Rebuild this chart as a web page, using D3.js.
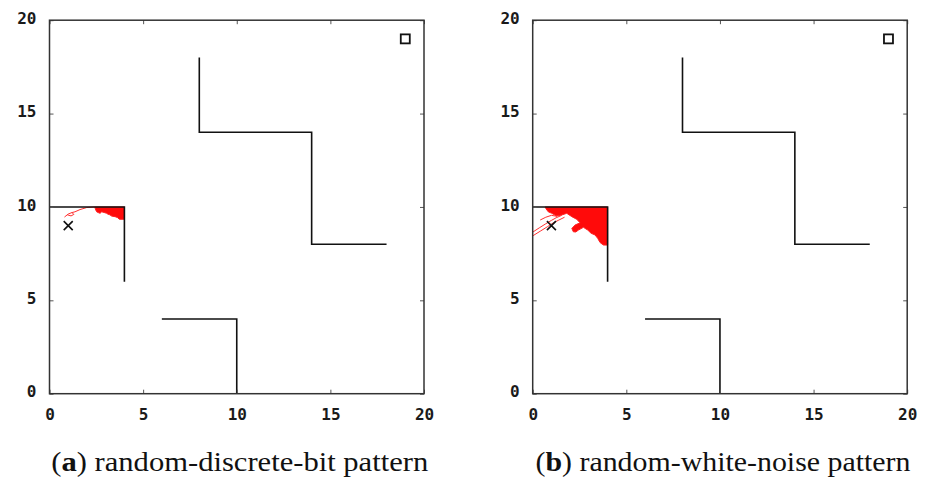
<!DOCTYPE html>
<html>
<head>
<meta charset="utf-8">
<script src="https://cdn.jsdelivr.net/npm/d3@7"></script>
<style>
  html, body { margin: 0; padding: 0; background: #fff; }
  svg { display: block; }
  .caption { font-family: "Liberation Serif", "Times New Roman", serif; font-size: 28px; fill: #111; }
</style>
</head>
<body>
<svg id="chart" width="935" height="479"></svg>
<script>
// Axis ticks shared by both panels
const xTicks = [0, 5, 10, 15, 20];
const yTicks = [0, 5, 10, 15, 20];

// Maze walls (polylines in grid coordinates)
const wallUpper = [[8, 18], [8, 14], [14, 14], [14, 8], [18, 8]];
const wallCorner = [[0, 10], [4, 10], [4, 6]];
const wallLower = [[6, 4], [10, 4], [10, 0]];

// Start (cross) and goal (square)
const startPoint = [1, 9];
const goalPoint = [19, 19];

// Panel captions
const captionTags = ["a", "b"];
const captionTexts = [" random-discrete-bit pattern", " random-white-noise pattern"];

// Visited area, random-discrete-bit pattern
const bitRegion = [
  [2.42, 10.0], [4.0, 10.0], [4.0, 9.34], [3.73, 9.34], [3.62, 9.44], [3.5, 9.48],
  [3.32, 9.51], [3.22, 9.58], [3.14, 9.6], [3.05, 9.66], [2.96, 9.69], [2.86, 9.72],
  [2.79, 9.74], [2.7, 9.66], [2.6, 9.7], [2.52, 9.74], [2.47, 9.84], [2.44, 9.92]
];
const bitTrail = [
  [0.8, 9.46], [1.0, 9.62], [1.2, 9.7], [1.36, 9.74], [1.63, 9.86], [1.99, 9.97], [2.42, 10.0]
];
const bitSpur = [[0.95, 9.58], [1.15, 9.52], [1.3, 9.6], [1.2, 9.7]];

// Visited area, random-white-noise pattern
const noiseRegion = [
  [0.66, 10.0], [4.0, 10.0], [4.0, 7.96], [3.78, 7.96], [3.6, 8.09], [3.47, 8.32],
  [3.33, 8.5], [3.12, 8.59], [2.94, 8.76], [2.71, 8.91], [2.58, 8.84], [2.44, 8.76],
  [2.3, 8.66], [2.17, 8.67], [2.09, 8.85], [2.26, 9.03], [2.53, 9.15], [2.35, 9.34],
  [2.09, 9.48], [1.82, 9.66], [1.55, 9.57], [1.28, 9.51], [1.02, 9.66], [0.83, 9.74],
  [0.7, 9.92]
];
const noiseTrailA = [[0.0, 8.45], [0.4, 8.7], [0.8, 8.95], [1.1, 9.15], [1.4, 9.3], [1.7, 9.45]];
const noiseTrailB = [[0.0, 8.65], [0.35, 8.88], [0.7, 9.1], [1.0, 9.28], [1.25, 9.42], [1.55, 9.55]];
const noiseTrailC = [[0.4, 9.3], [0.7, 9.45], [1.0, 9.55], [1.3, 9.5]];

const panels = [
  { left: 49.5, region: bitRegion, trails: [bitTrail, bitSpur], capWidth: 377 },
  { left: 532.7, region: noiseRegion, trails: [noiseTrailA, noiseTrailB, noiseTrailC], capWidth: 375 }
];

const plotW = 374.5, plotTop = 20.2, plotBottom = 393.7;
const svg = d3.select("#chart");

panels.forEach((p, i) => {
  const x = d3.scaleLinear().domain([0, 20]).range([p.left, p.left + plotW]);
  const y = d3.scaleLinear().domain([0, 20]).range([plotBottom, plotTop]);
  const line = d3.line().x(d => x(d[0])).y(d => y(d[1]));
  const g = svg.append("g");

  // Visited area
  g.append("path")
    .attr("d", line(p.region) + "Z")
    .attr("fill", "#ff0a0a")
    .attr("stroke", "#ff2020")
    .attr("stroke-width", 1)
    .attr("stroke-linejoin", "round");
  p.trails.forEach(t => {
    g.append("path")
      .attr("d", line(t))
      .attr("fill", "none")
      .attr("stroke", "#ff3030")
      .attr("stroke-width", 1);
  });

  // Walls
  [wallUpper, wallCorner, wallLower].forEach(w => {
    g.append("path")
      .attr("d", line(w))
      .attr("fill", "none")
      .attr("stroke", "#111")
      .attr("stroke-width", 1.6);
  });

  // Start cross
  const sx = x(startPoint[0]), sy = y(startPoint[1]), r = 4.5;
  g.append("path")
    .attr("d", `M${sx - r},${sy - r}L${sx + r},${sy + r}M${sx - r},${sy + r}L${sx + r},${sy - r}`)
    .attr("stroke", "#111")
    .attr("stroke-width", 1.6);

  // Goal square
  g.append("rect")
    .attr("x", x(goalPoint[0]) - 4.5)
    .attr("y", y(goalPoint[1]) - 4.5)
    .attr("width", 9)
    .attr("height", 9)
    .attr("fill", "none")
    .attr("stroke", "#111")
    .attr("stroke-width", 1.8);

  // Axes: labelled bottom/left, mirrored inward ticks on top/right
  const bottom = g.append("g").attr("transform", `translate(0,${plotBottom})`)
    .call(d3.axisBottom(x).tickValues(xTicks).tickSizeInner(-4).tickSizeOuter(0).tickPadding(15).tickFormat(d3.format("d")));
  const left = g.append("g").attr("transform", `translate(${p.left},0)`)
    .call(d3.axisLeft(y).tickValues(yTicks).tickSizeInner(-4).tickSizeOuter(0).tickPadding(13).tickFormat(d3.format("d")));
  const top = g.append("g").attr("transform", `translate(0,${plotTop})`)
    .call(d3.axisTop(x).tickValues(xTicks).tickSizeInner(-4).tickSizeOuter(0).tickFormat(""));
  const right = g.append("g").attr("transform", `translate(${p.left + plotW},0)`)
    .call(d3.axisRight(y).tickValues(yTicks).tickSizeInner(-4).tickSizeOuter(0).tickFormat(""));
  [bottom, left, top, right].forEach(a => {
    a.select(".domain").remove();
    a.selectAll(".tick line").attr("stroke", "#555").attr("stroke-width", 1);
    a.selectAll(".tick text")
      .attr("font-family", "'DejaVu Sans Mono', monospace")
      .attr("font-weight", "bold")
      .attr("font-size", 16)
      .attr("fill", "#1a1a1a");
  });
  left.selectAll(".tick text").attr("dy", "0.2em");

  // Frame
  g.append("rect")
    .attr("x", p.left).attr("y", plotTop)
    .attr("width", plotW).attr("height", plotBottom - plotTop)
    .attr("fill", "none").attr("stroke", "#333").attr("stroke-width", 1.5);

  // Caption
  const cap = svg.append("text")
    .attr("class", "caption")
    .attr("x", p.left + plotW / 2 + 3)
    .attr("y", 471)
    .attr("text-anchor", "middle")
    .attr("textLength", p.capWidth)
    .attr("lengthAdjust", "spacingAndGlyphs");
  cap.append("tspan").text("(");
  cap.append("tspan").attr("font-weight", "bold").text(captionTags[i]);
  cap.append("tspan").text(")" + captionTexts[i]);
});
</script>
</body>
</html>
